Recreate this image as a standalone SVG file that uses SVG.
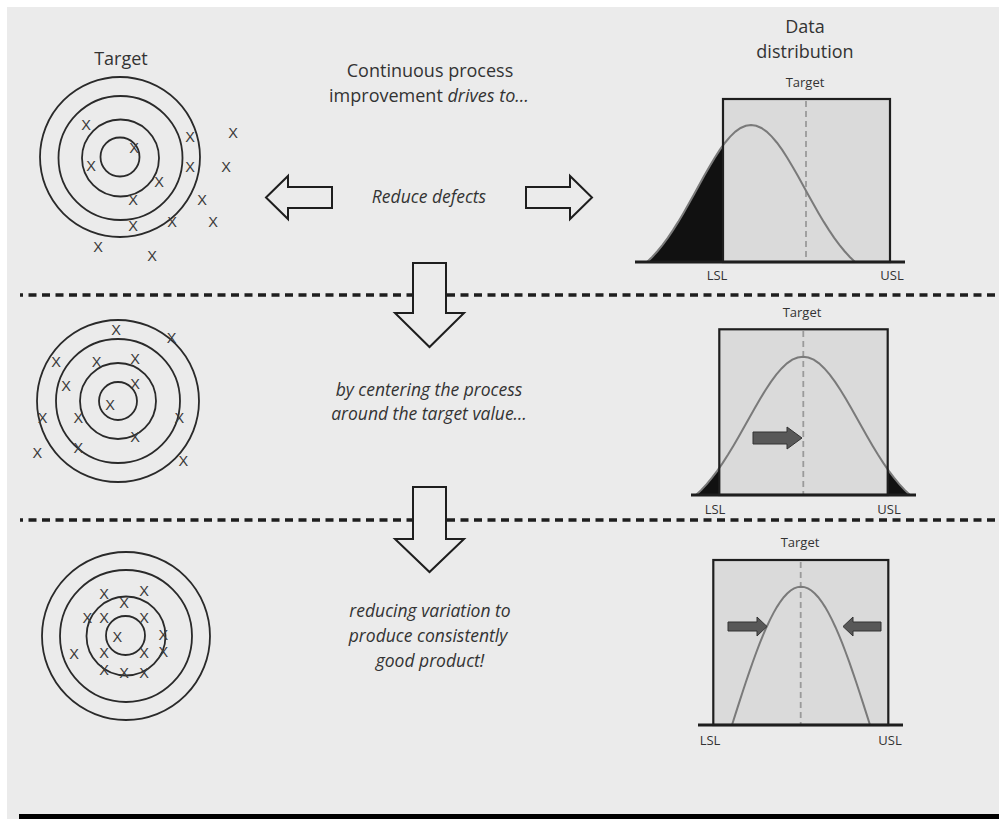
<svg xmlns="http://www.w3.org/2000/svg" width="999" height="819" viewBox="0 0 999 819">
<style>
.t{font-family:"Open Sans","Liberation Sans",sans-serif;fill:#333;text-anchor:middle}
.h{font-size:18px}
.i{font-size:17.5px;font-style:italic}
.s{font-size:13px}
.x{font-family:"Liberation Sans",Arial,sans-serif;font-size:14.5px;fill:#3a3a3a;text-anchor:middle}
.ring{fill:none;stroke:#2a2a2a;stroke-width:1.8}
.box{fill:none;stroke:#1e1e1e;stroke-width:2.2}
.boxfill{fill:#dadada}
.base{stroke:#1e1e1e;stroke-width:3}
.tgt{stroke:#9a9a9a;stroke-width:1.8;stroke-dasharray:6 4}
.sep{stroke:#1e1e1e;stroke-width:3.5;stroke-dasharray:8 5.5}
.hollow{fill:#ebebeb;stroke:#1e1e1e;stroke-width:2}
.garrow{fill:#585858;stroke:#333;stroke-width:1}
.cl{fill:none;stroke:#7a7a7a;stroke-width:2}
.cf{fill:#111;stroke:none}
</style>
<defs>
<path id="bell" vector-effect="non-scaling-stroke" d="M-100,0 L-95,-3.69 L-90,-7.86 L-85,-12.52 L-80,-17.66 L-75,-23.26 L-70,-29.28 L-65,-35.66 L-60,-42.31 L-55,-49.16 L-50,-56.06 L-45,-62.94 L-40,-69.6 L-35,-75.95 L-30,-81.81 L-25,-87.05 L-20,-91.54 L-15,-95.16 L-10,-97.83 L-5,-99.45 L0,-100 L5,-99.45 L10,-97.83 L15,-95.16 L20,-91.54 L25,-87.05 L30,-81.81 L35,-75.95 L40,-69.6 L45,-62.94 L50,-56.06 L55,-49.16 L60,-42.31 L65,-35.66 L70,-29.28 L75,-23.26 L80,-17.66 L85,-12.52 L90,-7.86 L95,-3.69 L100,0"/>
<path id="arch" vector-effect="non-scaling-stroke" d="M-100,0 L-95,-7.85 L-90,-15.64 L-85,-23.35 L-80,-30.9 L-75,-38.27 L-70,-45.4 L-65,-52.25 L-60,-58.78 L-55,-64.95 L-50,-70.71 L-45,-76.04 L-40,-80.9 L-35,-85.26 L-30,-89.1 L-25,-92.39 L-20,-95.11 L-15,-97.24 L-10,-98.77 L-5,-99.69 L0,-100 L5,-99.69 L10,-98.77 L15,-97.24 L20,-95.11 L25,-92.39 L30,-89.1 L35,-85.26 L40,-80.9 L45,-76.04 L50,-70.71 L55,-64.95 L60,-58.78 L65,-52.25 L70,-45.4 L75,-38.27 L80,-30.9 L85,-23.35 L90,-15.64 L95,-7.85 L100,0"/>
<clipPath id="cTL"><rect x="600" y="90" width="123" height="180"/></clipPath>
<clipPath id="cML"><rect x="600" y="320" width="119.3" height="180"/></clipPath>
<clipPath id="cMR"><rect x="887.7" y="320" width="100" height="180"/></clipPath>
</defs>
<rect x="0" y="0" width="999" height="819" fill="#ffffff"/>
<rect x="7" y="7" width="992" height="812" fill="#ebebeb"/>
<rect x="19" y="814" width="980" height="5" fill="#000"/>

<g id="separators">
<line class="sep" x1="20" y1="295" x2="999" y2="295" stroke-dashoffset="5"/>
<line class="sep" x1="20" y1="520" x2="999" y2="520" stroke-dashoffset="5"/>
</g>

<g id="target-1">
<text class="t h" x="121" y="65">Target</text>
<circle class="ring" cx="120" cy="157" r="80"/>
<circle class="ring" cx="120.5" cy="158" r="62"/>
<circle class="ring" cx="120.5" cy="158" r="38.5"/>
<circle class="ring" cx="120" cy="157" r="19.5"/>
<text class="x" x="86" y="129.5">X</text>
<text class="x" x="134" y="152.5">X</text>
<text class="x" x="91" y="170.5">X</text>
<text class="x" x="159" y="186.5">X</text>
<text class="x" x="133" y="204.5">X</text>
<text class="x" x="133" y="230.5">X</text>
<text class="x" x="172" y="226.5">X</text>
<text class="x" x="190" y="141.5">X</text>
<text class="x" x="190" y="171.5">X</text>
<text class="x" x="233" y="137.5">X</text>
<text class="x" x="226" y="171.5">X</text>
<text class="x" x="202" y="204.5">X</text>
<text class="x" x="213" y="226.5">X</text>
<text class="x" x="98" y="251.5">X</text>
<text class="x" x="152" y="260.5">X</text>
</g>

<g id="target-2">
<circle class="ring" cx="118" cy="401" r="81"/>
<circle class="ring" cx="118" cy="401" r="62"/>
<circle class="ring" cx="118" cy="401" r="38"/>
<circle class="ring" cx="118" cy="401" r="19"/>
<text class="x" x="116" y="334.5">X</text>
<text class="x" x="171.7" y="342.5">X</text>
<text class="x" x="56" y="367.2">X</text>
<text class="x" x="96.7" y="367.2">X</text>
<text class="x" x="135" y="363.8">X</text>
<text class="x" x="66" y="390.5">X</text>
<text class="x" x="135" y="388.8">X</text>
<text class="x" x="110" y="409.5">X</text>
<text class="x" x="42.7" y="422.8">X</text>
<text class="x" x="78.3" y="422.8">X</text>
<text class="x" x="179.3" y="422.8">X</text>
<text class="x" x="135" y="441.5">X</text>
<text class="x" x="78.3" y="452.8">X</text>
<text class="x" x="37.3" y="458.2">X</text>
<text class="x" x="183.3" y="465.5">X</text>
</g>

<g id="target-3">
<circle class="ring" cx="126" cy="636" r="84"/>
<circle class="ring" cx="126" cy="636" r="66"/>
<circle class="ring" cx="126" cy="636" r="39.5"/>
<circle class="ring" cx="125.5" cy="635.5" r="19.5"/>
<text class="x" x="104" y="598.8">X</text>
<text class="x" x="144" y="595.5">X</text>
<text class="x" x="124" y="608.2">X</text>
<text class="x" x="87.3" y="622.8">X</text>
<text class="x" x="104" y="622.8">X</text>
<text class="x" x="144" y="622.8">X</text>
<text class="x" x="163.3" y="639.8">X</text>
<text class="x" x="117.3" y="642.2">X</text>
<text class="x" x="74" y="658.8">X</text>
<text class="x" x="104" y="657.5">X</text>
<text class="x" x="144" y="658.2">X</text>
<text class="x" x="163.3" y="657.2">X</text>
<text class="x" x="104" y="674.5">X</text>
<text class="x" x="124" y="678.2">X</text>
<text class="x" x="144" y="678.2">X</text>
</g>

<g id="text-intro">
<text class="t h" x="430" y="77">Continuous process</text>
<text class="t h" x="429" y="102">improvement <tspan font-style="italic">drives to…</tspan></text>
</g>
<g id="text-reduce">
<text class="t i" x="429" y="203">Reduce defects</text>
</g>
<g id="text-center">
<text class="t i" x="429" y="396">by centering the process</text>
<text class="t i" x="429" y="420">around the target value…</text>
</g>
<g id="text-variation">
<text class="t i" x="430" y="617">reducing variation to</text>
<text class="t i" x="428" y="642">produce consistently</text>
<text class="t i" x="430" y="667">good product!</text>
</g>

<g id="distribution-1">
<text class="t h" x="805" y="33">Data</text>
<text class="t h" x="805" y="58">distribution</text>
<text class="t s" x="805" y="87">Target</text>
<rect class="boxfill" x="723" y="99" width="167" height="163"/>
<g clip-path="url(#cTL)"><use href="#bell" class="cf" transform="translate(751,262) scale(1.04,1.37)"/></g>
<line class="tgt" x1="806" y1="101" x2="806" y2="261"/>
<use href="#bell" class="cl" transform="translate(751,262) scale(1.04,1.37)"/>
<rect class="box" x="723" y="99" width="167" height="163"/>
<line class="base" x1="635" y1="262" x2="905" y2="262"/>
<text class="t s" x="717" y="280">LSL</text>
<text class="t s" x="892" y="280">USL</text>
</g>

<g id="distribution-2">
<text class="t s" x="802" y="317">Target</text>
<rect class="boxfill" x="719.3" y="329.3" width="168.4" height="165.7"/>
<g clip-path="url(#cML)"><use href="#bell" class="cf" transform="translate(803,495) scale(1.07,1.383)"/></g>
<g clip-path="url(#cMR)"><use href="#bell" class="cf" transform="translate(803,495) scale(1.07,1.383)"/></g>
<line class="tgt" x1="803.3" y1="331" x2="803.3" y2="494"/>
<use href="#bell" class="cl" transform="translate(803,495) scale(1.07,1.383)"/>
<polygon class="garrow" points="753,432 787,432 787,427 802,438 787,449 787,444 753,444"/>
<rect class="box" x="719.3" y="329.3" width="168.4" height="165.7"/>
<line class="base" x1="691" y1="495" x2="916" y2="495"/>
<text class="t s" x="715" y="514">LSL</text>
<text class="t s" x="889" y="514">USL</text>
</g>

<g id="distribution-3">
<text class="t s" x="800" y="547">Target</text>
<rect class="boxfill" x="713.3" y="560" width="175" height="165"/>
<line class="tgt" x1="800.7" y1="562" x2="800.7" y2="724"/>
<use href="#arch" class="cl" transform="translate(801,725) scale(0.69,1.383)"/>
<polygon class="garrow" points="728,622 757,622 757,617 767,626.5 757,636 757,631 728,631"/>
<polygon class="garrow" points="881,622 853,622 853,617 843,626.5 853,636 853,631 881,631"/>
<rect class="box" x="713.3" y="560" width="175" height="165"/>
<line class="base" x1="698" y1="725" x2="903" y2="725"/>
<text class="t s" x="710" y="745">LSL</text>
<text class="t s" x="890" y="745">USL</text>
</g>

<g id="connectors">
<polygon class="hollow" points="266,197.5 288,176 288,187 332,187 332,208 288,208 288,219"/>
<polygon class="hollow" points="526,187 570,187 570,176 592,197.5 570,219 570,208 526,208"/>
<polygon class="hollow" points="413,263 446,263 446,313 464,313 429.5,347 395,313 413,313"/>
<polygon class="hollow" points="413,487 446,487 446,539 464,539 429.5,572 395,539 413,539"/>
</g>
</svg>
